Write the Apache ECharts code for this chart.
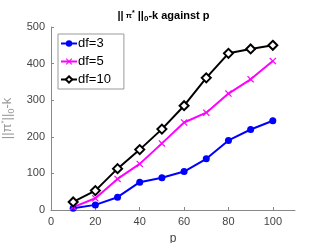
<!DOCTYPE html>
<html><head><meta charset="utf-8">
<script src="https://cdn.jsdelivr.net/npm/echarts@6/dist/echarts.min.js"></script>
<style>html,body{margin:0;padding:0;background:#fff}#c{width:327px;height:243px}</style>
</head><body><div id="c"></div>
<script>
const pValues = [10, 20, 30, 40, 50, 60, 70, 80, 90, 100];
const df3 = [5, 14, 35, 76, 88, 105, 140, 190, 220, 244];
const df5 = [8, 32, 85, 126, 182, 239, 266, 318, 357, 407];
const df10 = [22, 53, 113, 165, 221, 285, 361, 428, 440, 450];
const seriesNames = ['df=3', 'df=5', 'df=10'];
const xTicks = [0, 20, 40, 60, 80, 100];
const yTicks = [0, 100, 200, 300, 400, 500];

const F = 'Liberation Sans, Arial, Helvetica, sans-serif';
const pair = a => pValues.map((p, i) => [p, a[i]]);
const xPath = 'path://M0,1.2L1.2,0L5,3.8L8.8,0L10,1.2L6.2,5L10,8.8L8.8,10L5,6.2L1.2,10L0,8.8L3.8,5Z';

const chart = echarts.init(document.getElementById('c'), null, {renderer: 'canvas'});
chart.setOption({
  animation: false,
  textStyle: {fontFamily: F},
  title: {
    left: 'center', top: 4,
    text: '{a|||}{pi| π}{sup|*}{a| ||}{sub|0}{a|-k against p}',
    textStyle: {
      rich: {
        a: {fontFamily: F, fontSize: 11, fontWeight: 'bold', color: '#000'},
        pi: {fontFamily: F, fontSize: 8, color: '#000'},
        sup: {fontFamily: F, fontSize: 7, color: '#000', verticalAlign: 'bottom', padding: [0, 0, 6, 0]},
        sub: {fontFamily: F, fontSize: 8, fontWeight: 'bold', color: '#000', padding: [6, 0, 0, 0]}
      }
    }
  },
  legend: {
    orient: 'vertical', left: 58, top: 34,
    padding: [3, 13, 3, 2], itemGap: 5,
    itemWidth: 16, itemHeight: 8,
    backgroundColor: '#fff', borderColor: '#999', borderWidth: 1,
    textStyle: {fontFamily: F, fontSize: 13, color: '#000', padding: [0, 0, 0, -4]},
    data: seriesNames
  },
  grid: {left: 51, right: 32, top: 27, bottom: 33, containLabel: false, outerBoundsMode: 'none'},
  xAxis: {
    type: 'value', min: 0, max: 110, interval: 20,
    name: 'p', nameLocation: 'middle', nameGap: 23,
    nameTextStyle: {fontFamily: F, fontSize: 12, color: '#444'},
    axisLine: {show: true, lineStyle: {color: '#888'}},
    axisTick: {show: true, inside: true, length: 3, lineStyle: {color: '#888'}},
    axisLabel: {fontFamily: F, fontSize: 11, color: '#444', margin: 6, showMaxLabel: false,
      formatter: v => xTicks.includes(v) ? String(v) : ''},
    splitLine: {show: false}
  },
  yAxis: {
    type: 'value', min: 0, max: 500, interval: 100,
    name: '{a|||π}{sup|*}{a|||}{sub|0}{a|-k}', nameLocation: 'middle', nameGap: 32, nameRotate: 90,
    nameTextStyle: {
      rich: {
        a: {fontFamily: F, fontSize: 13, color: '#999'},
        sup: {fontFamily: F, fontSize: 8, color: '#999', padding: [0, 0, 7, 0]},
        sub: {fontFamily: F, fontSize: 9, color: '#999', padding: [7, 0, 0, 0]}
      }
    },
    axisLine: {show: true, lineStyle: {color: '#888'}},
    axisTick: {show: true, inside: true, length: 3, lineStyle: {color: '#888'}},
    axisLabel: {fontFamily: F, fontSize: 11, color: '#444', margin: 6,
      formatter: v => yTicks.includes(v) ? String(v) : ''},
    splitLine: {show: false}
  },
  series: [
    {name: seriesNames[0], type: 'line', data: pair(df3), symbol: 'circle', symbolSize: 7,
      lineStyle: {color: '#0000ff', width: 2}, itemStyle: {color: '#0000ff'}},
    {name: seriesNames[1], type: 'line', data: pair(df5), symbol: xPath, symbolSize: 7,
      lineStyle: {color: '#ff00ff', width: 2}, itemStyle: {color: '#ff00ff'}},
    {name: seriesNames[2], type: 'line', data: pair(df10), symbol: 'emptyDiamond', symbolSize: 9,
      lineStyle: {color: '#000', width: 2}, itemStyle: {color: '#000', borderWidth: 2}}
  ]
});
</script></body></html>
